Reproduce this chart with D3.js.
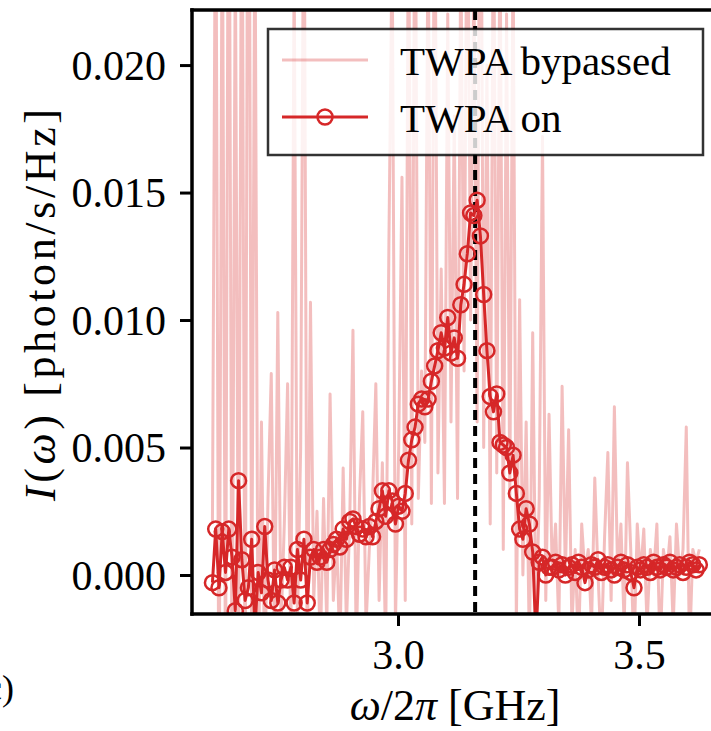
<!DOCTYPE html>
<html>
<head>
<meta charset="utf-8">
<script src="https://cdn.jsdelivr.net/npm/d3@7"></script>
<style>
  html, body { margin: 0; padding: 0; background: #fff; }
  svg { display: block; font-family: "Liberation Serif", "Times New Roman", serif; }
</style>
</head>
<body>
<svg id="chart" width="711" height="731"></svg>
<script>
// Frequency grid of the spectrum (GHz): start and spacing of the measured bins
const freqStart = 2.615;
const freqStep = 0.00678;

// Emitted spectral density with the TWPA switched on (photon/s/Hz)
const twpaOn = [
  -0.0003, 0.0018, -0.0005, 0.0017, 0.0001, 0.0018, 0.0007, -0.0014, 0.0037, 0.0006,
  -0.0010, -0.0005, 0.0014, -0.0021, 0.0001, -0.0007, 0.0019, -0.0002, -0.0010, 0.0002,
  -0.0011, -0.0002, 0.0003, -0.0002, 0.0003, -0.0011, 0.0010, -0.0002, 0.0014, -0.0011,
  0.0007, 0.0010, 0.0005, 0.0007, 0.0010, 0.0005, 0.0010, 0.0012, 0.0014, 0.0011,
  0.0018, 0.0014, 0.0021, 0.0022, 0.0019, 0.0016, 0.0018, 0.0015, 0.0019, 0.0015,
  0.0021, 0.0026, 0.0033, 0.0023, 0.0033, 0.0029, 0.0020, 0.0027, 0.0025, 0.0032,
  0.0045, 0.0053, 0.0058, 0.0067, 0.0069, 0.0066, 0.0069, 0.0076, 0.0082, 0.0088,
  0.0095, 0.0089, 0.0101, 0.0087, 0.0093, 0.0085, 0.0106, 0.0114, 0.0126, 0.0142,
  0.0141, 0.0147, 0.0133, 0.0110, 0.0088, 0.0070, 0.0064, 0.0071, 0.0052, 0.0051,
  0.0050, 0.0040, 0.0047, 0.0032, 0.0018, 0.0014, 0.0026, 0.0020, 0.0009, -0.0025,
  0.0005, 0.0007, 0.0000, 0.0003, 0.0003, 0.0005, 0.0002, 0.0004, 0.0000, 0.0003,
  0.0004, 0.0001, 0.0005, 0.0003, -0.0003, 0.0002, 0.0004, 0.0003, 0.0006, 0.0001,
  0.0003, 0.0004, 0.0002, 0.0000, 0.0003, 0.0005, 0.0002, 0.0004, 0.0001, -0.0005,
  0.0003, 0.0002, 0.0004, 0.0003, 0.0001, 0.0005, 0.0003, 0.0002, 0.0004, 0.0003,
  0.0005, 0.0002, 0.0003, 0.0004, 0.0001, 0.0003, 0.0005, 0.0004, 0.0002, 0.0004
];

// Same spectrum with the TWPA bypassed (photon/s/Hz)
const twpaBypassed = [
  0.002, 0.030, -0.008, 0.028, -0.005, 0.035, -0.006, 0.025, -0.004, 0.032,
  -0.007, 0.040, -0.003, 0.027, -0.005, 0.0060, -0.004, 0.003, 0.0079, -0.003,
  0.0103, -0.002, 0.002, 0.0075, -0.003, 0.024, -0.002, 0.005, 0.030, -0.004,
  0.0107, -0.001, 0.0025, -0.003, 0.003, -0.002, 0.0071, -0.001, 0.0015, -0.003,
  0.0042, -0.002, 0.002, 0.0096, -0.003, 0.003, 0.0064, -0.002, 0.001, 0.003,
  0.0075, -0.001, 0.0044, -0.003, 0.013, 0.025, -0.002, 0.005, 0.0156, -0.001,
  0.028, 0.002, 0.030, 0.003, 0.008, 0.0052, 0.026, 0.0028, 0.030, 0.004,
  0.012, 0.0028, 0.022, 0.006, 0.018, 0.003, 0.025, 0.008, 0.030, 0.010,
  0.024, 0.006, 0.035, 0.005, 0.020, 0.002, 0.028, 0.004, 0.026, 0.001,
  0.022, 0.003, 0.025, -0.002, 0.0108, 0.000, 0.006, -0.003, 0.0095, -0.002,
  0.003, 0.0172, -0.001, 0.0063, 0.000, 0.002, -0.002, 0.0074, 0.000, 0.0057,
  -0.002, 0.001, -0.003, 0.002, 0.000, 0.001, -0.002, 0.0038, 0.000, -0.003,
  0.0015, 0.0048, -0.001, 0.0066, 0.000, 0.002, -0.002, 0.0044, 0.001, -0.003,
  0.002, 0.000, 0.0018, -0.002, 0.001, 0.000, 0.002, -0.003, 0.001, 0.000,
  0.0015, -0.002, 0.002, 0.000, 0.001, 0.0058, -0.003, 0.001, 0.0005, 0.001
];

// Pump frequency marker (GHz)
const pumpFreq = 3.16;

const xTicks = [3.0, 3.5];
const xTickLabels = ["3.0", "3.5"];
const yTicks = [0.000, 0.005, 0.010, 0.015, 0.020];
const yTickLabels = ["0.000", "0.005", "0.010", "0.015", "0.020"];

const seriesNames = ["TWPA bypassed", "TWPA on"];

const freqs = twpaOn.map((_, i) => freqStart + i * freqStep);

const svg = d3.select("#chart");
const plot = { left: 192, right: 730, top: 10, bottom: 614 };

const x = d3.scaleLinear().domain([2.5726, 3.6888]).range([plot.left, plot.right]);
const y = d3.scaleLinear().domain([-0.00153, 0.02216]).range([plot.bottom, plot.top]);

const red = "#d62728";

svg.append("defs").append("clipPath").attr("id", "plotClip")
  .append("rect")
  .attr("x", plot.left).attr("y", plot.top)
  .attr("width", plot.right - plot.left).attr("height", plot.bottom - plot.top);

const area = svg.append("g").attr("clip-path", "url(#plotClip)");

const line = d3.line().x(d => x(d[0])).y(d => y(d[1]));

// Bypassed trace: translucent red
area.append("path")
  .datum(freqs.map((f, i) => [f, twpaBypassed[i]]))
  .attr("d", line)
  .attr("fill", "none")
  .attr("stroke", red)
  .attr("stroke-opacity", 0.3)
  .attr("stroke-width", 3)
  .attr("stroke-linejoin", "round");

// Pump frequency
area.append("line")
  .attr("x1", x(pumpFreq)).attr("x2", x(pumpFreq))
  .attr("y1", plot.top).attr("y2", plot.bottom)
  .attr("stroke", "#000")
  .attr("stroke-width", 4)
  .attr("stroke-dasharray", "10,6");

// TWPA on trace with open circle markers
const onData = freqs.map((f, i) => [f, twpaOn[i]]);
area.append("path")
  .datum(onData)
  .attr("d", line)
  .attr("fill", "none")
  .attr("stroke", red)
  .attr("stroke-width", 3)
  .attr("stroke-linejoin", "round");

area.selectAll("circle.on")
  .data(onData)
  .join("circle")
  .attr("class", "on")
  .attr("cx", d => x(d[0]))
  .attr("cy", d => y(d[1]))
  .attr("r", 7.5)
  .attr("fill", "none")
  .attr("stroke", red)
  .attr("stroke-width", 2.5);

// Axes
const fontSize = 42;
const xAxis = svg.append("g")
  .attr("transform", `translate(0,${plot.bottom})`)
  .call(d3.axisBottom(x).tickValues(xTicks).tickFormat((d, i) => xTickLabels[i]).tickSize(12).tickPadding(10));
xAxis.select(".domain").remove();
xAxis.selectAll(".tick line").attr("stroke", "#000").attr("stroke-width", 3);
xAxis.selectAll(".tick text")
  .attr("font-size", fontSize)
  .attr("font-family", "Liberation Serif, serif")
  .attr("fill", "#000")
  .attr("y", 55).attr("dy", 0);

const yAxis = svg.append("g")
  .attr("transform", `translate(${plot.left},0)`)
  .call(d3.axisLeft(y).tickValues(yTicks).tickFormat((d, i) => yTickLabels[i]).tickSize(12).tickPadding(14));
yAxis.select(".domain").remove();
yAxis.selectAll(".tick line").attr("stroke", "#000").attr("stroke-width", 3);
yAxis.selectAll(".tick text")
  .attr("font-size", fontSize)
  .attr("font-family", "Liberation Serif, serif")
  .attr("fill", "#000")
  .attr("dy", "0.34em");

// Spines
const spines = svg.append("g").attr("stroke", "#000").attr("stroke-width", 3.5).attr("stroke-linecap", "square");
spines.append("line").attr("x1", plot.left).attr("x2", plot.left).attr("y1", plot.top).attr("y2", plot.bottom);
spines.append("line").attr("x1", plot.left).attr("x2", plot.right).attr("y1", plot.top).attr("y2", plot.top);
spines.append("line").attr("x1", plot.left).attr("x2", plot.right).attr("y1", plot.bottom).attr("y2", plot.bottom);
spines.append("line").attr("x1", plot.right).attr("x2", plot.right).attr("y1", plot.top).attr("y2", plot.bottom);

// Axis titles
const xTitle = svg.append("text")
  .attr("x", 455).attr("y", 720)
  .attr("text-anchor", "middle")
  .attr("font-size", 44)
  .attr("fill", "#000");
xTitle.append("tspan").attr("font-style", "italic").text("ω");
xTitle.append("tspan").text("/2");
xTitle.append("tspan").attr("font-style", "italic").text("π");
xTitle.append("tspan").text(" [GHz]");

const yTitle = svg.append("text")
  .attr("transform", "translate(55,305) rotate(-90)")
  .attr("text-anchor", "middle")
  .attr("font-size", 44)
  .attr("textLength", 392)
  .attr("lengthAdjust", "spacing")
  .attr("fill", "#000");
yTitle.append("tspan").attr("font-style", "italic").text("I");
yTitle.append("tspan").text("(");
yTitle.append("tspan").attr("font-style", "italic").text("ω");
yTitle.append("tspan").text(") [photon/s/Hz]");

// Panel letter at the lower left
svg.append("text")
  .attr("x", 14).attr("y", 700)
  .attr("text-anchor", "end")
  .attr("font-size", 36)
  .attr("fill", "#000")
  .text("(c)");

// Legend
const legend = svg.append("g");
legend.append("rect")
  .attr("x", 268).attr("y", 29)
  .attr("width", 435).attr("height", 126)
  .attr("fill", "#fff").attr("fill-opacity", 0.8)
  .attr("stroke", "#000").attr("stroke-opacity", 0.8)
  .attr("stroke-width", 2.5);

const legendRows = [
  { name: seriesNames[0], y: 60, opacity: 0.3, width: 3, marker: false },
  { name: seriesNames[1], y: 117, opacity: 1, width: 3, marker: true }
];
legendRows.forEach(r => {
  legend.append("line")
    .attr("x1", 282).attr("x2", 368)
    .attr("y1", r.y).attr("y2", r.y)
    .attr("stroke", red).attr("stroke-opacity", r.opacity)
    .attr("stroke-width", r.width);
  if (r.marker) {
    legend.append("circle")
      .attr("cx", 325).attr("cy", r.y).attr("r", 7.5)
      .attr("fill", "none").attr("stroke", red).attr("stroke-width", 2.5);
  }
  legend.append("text")
    .attr("x", 400).attr("y", r.y + 15)
    .attr("font-size", 41)
    .attr("fill", "#000")
    .text(r.name);
});
</script>
</body>
</html>
